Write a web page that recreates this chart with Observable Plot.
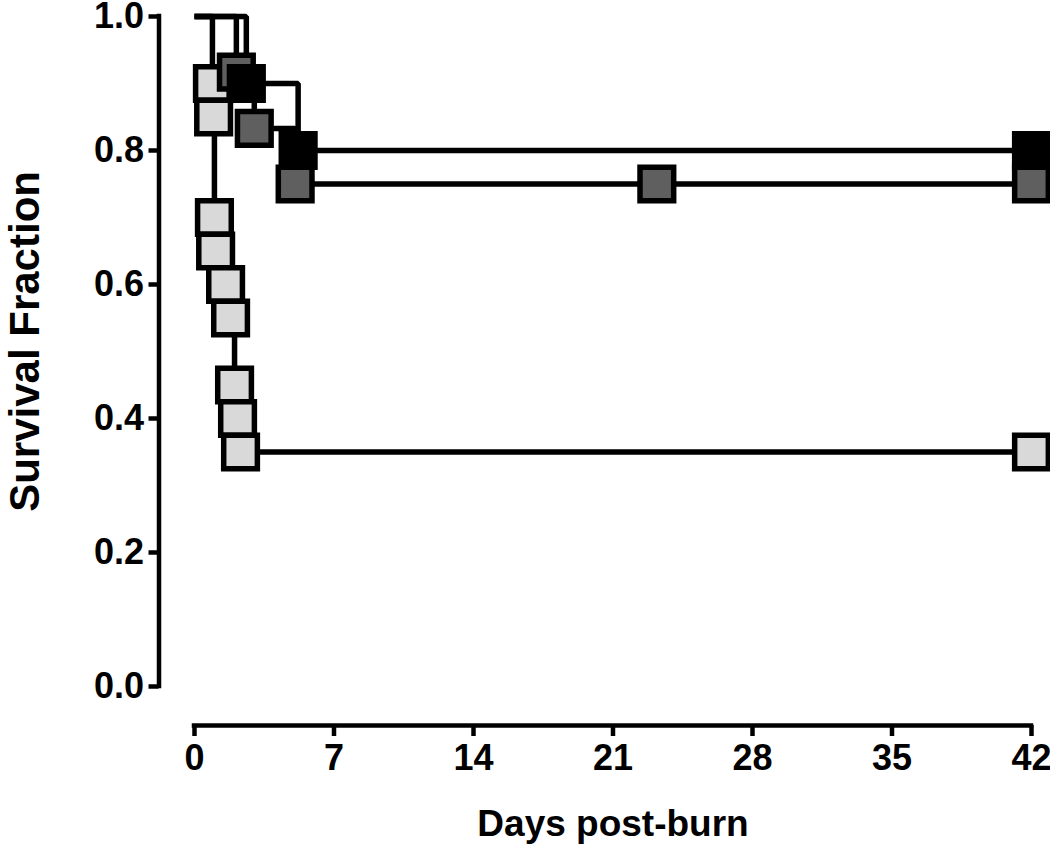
<!DOCTYPE html>
<html>
<head>
<meta charset="utf-8">
<script src="https://cdn.jsdelivr.net/npm/d3@7"></script>
<script src="https://cdn.jsdelivr.net/npm/@observablehq/plot@0.6"></script>
<style>
  html, body { margin: 0; padding: 0; background: #fff; }
  #chart { width: 1050px; height: 846px; }
</style>
</head>
<body>
<div id="chart"></div>
<script>
// ---- Data ----
const seriesNames = ["light", "dark", "black"];
const seriesFill = ["#d9d9d9", "#5f5f5f", "#000000"];

const lightDays = [0, 0.9, 0.96, 1.0, 1.06, 1.56, 1.81, 2.01, 2.16, 2.31, 42];
const lightSurv = [1.0, 0.9, 0.85, 0.7, 0.65, 0.6, 0.55, 0.45, 0.4, 0.35, 0.35];

const darkDays = [0, 2.1, 3.0, 5.05, 23.2, 42];
const darkSurv = [1.0, 0.917, 0.833, 0.75, 0.75, 0.75];

const blackDays = [0, 2.6, 5.2, 42];
const blackSurv = [1.0, 0.9, 0.8, 0.8];

const xTicks = [0, 7, 14, 21, 28, 35, 42];
const yTicks = [0, 0.2, 0.4, 0.6, 0.8, 1.0];
const xTitle = "Days post-burn";
const yTitle = "Survival Fraction";

// ---- Build tables ----
function table(name, days, surv) {
  return days.map((d, i) => ({series: name, day: d, surv: surv[i], first: i === 0}));
}
const allSeries = [
  table(seriesNames[0], lightDays, lightSurv),
  table(seriesNames[1], darkDays, darkSurv),
  table(seriesNames[2], blackDays, blackSurv)
];

// ---- Layout ----
const W = 1050, H = 846;
const mL = 158.5, mR = 19, mT = 16, mB = 121;
const x0px = 194, x42px = 1031;            // pixel of day 0 and day 42
const pxPerDay = (x42px - x0px) / 42;
const xLeft = -(x0px - mL) / pxPerDay;      // y-axis sits left of day 0
const yBottom = -(725 - 686) / 670;         // x-axis sits below 0

const font = "'Liberation Sans', Arial, Helvetica, sans-serif";

const marks = [];
// axis lines
marks.push(Plot.ruleX([xLeft], {y1: 0, y2: 1, stroke: "black", strokeWidth: 4.5, strokeLinecap: "square"}));
marks.push(Plot.ruleY([yBottom], {x1: 0, x2: 42, stroke: "black", strokeWidth: 4.5, strokeLinecap: "square"}));
// axes
marks.push(Plot.axisY(yTicks, {anchor: "left", label: null, tickSize: 10, tickPadding: 5, strokeWidth: 4.5,
  tickFormat: d3.format(".1f"), fontSize: 36, fontWeight: "bold", fontFamily: font}));
marks.push(Plot.axisX(xTicks, {anchor: "bottom", label: null, tickSize: 11, tickPadding: 8, strokeWidth: 4.5,
  tickFormat: d => String(d), fontSize: 36, fontWeight: "bold", fontFamily: font}));
// step lines
allSeries.forEach(s => {
  marks.push(Plot.line(s, {x: "day", y: "surv", curve: "step-after", stroke: "black", strokeWidth: 5.5, strokeLinejoin: "miter", strokeLinecap: "butt"}));
});
// markers
allSeries.forEach((s, i) => {
  marks.push(Plot.dot(s.filter(d => !d.first), {x: "day", y: "surv", symbol: "square", r: 19,
    fill: seriesFill[i], stroke: "black", strokeWidth: 5.5}));
});
// titles
marks.push(Plot.text([xTitle], {x: [21], frameAnchor: "bottom", dy: 110, lineAnchor: "bottom", textAnchor: "middle",
  fontSize: 37, fontWeight: "bold", fontFamily: font, fill: "black"}));
marks.push(Plot.text([yTitle], {y: [0.515], frameAnchor: "left", dx: -133, rotate: -90, textAnchor: "middle",
  fontSize: 42, fontWeight: "bold", fontFamily: font, fill: "black"}));

const chart = Plot.plot({
  width: W, height: H,
  marginLeft: mL, marginRight: mR, marginTop: mT, marginBottom: mB,
  x: {domain: [xLeft, 42]},
  y: {domain: [yBottom, 1]},
  style: {fontFamily: font, fontWeight: "bold", color: "black", background: "white", overflow: "visible"},
  marks
});
document.getElementById("chart").appendChild(chart);
</script>
</body>
</html>
